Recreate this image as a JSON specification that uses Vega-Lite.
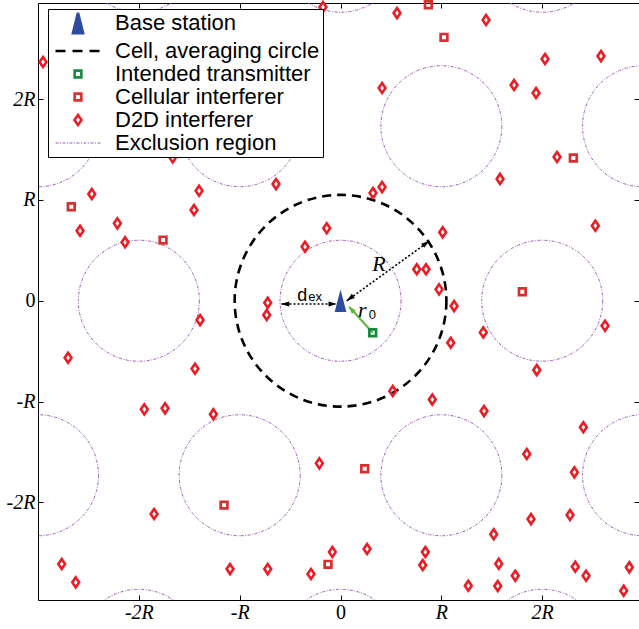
{
  "$schema": "https://vega.github.io/schema/vega-lite/v6.json",
  "width": 601,
  "height": 597,
  "autosize": {"type": "none"},
  "padding": {"left": 38, "top": 3, "right": 0, "bottom": 29},
  "background": "white",
  "config": {"view": {"stroke": null}, "axis": {"grid": false}},
  "datasets": {
    "circles": [
      {"x": 0, "y": 0, "r": 1.05, "series": "Cell, averaging circle"},
      {"x": 0, "y": 0, "r": 0.6, "series": "Exclusion region"},
      {"x": 2, "y": 0, "r": 0.6, "series": "Exclusion region"},
      {"x": -2, "y": 0, "r": 0.6, "series": "Exclusion region"},
      {"x": 1, "y": 1.732, "r": 0.6, "series": "Exclusion region"},
      {"x": -1, "y": 1.732, "r": 0.6, "series": "Exclusion region"},
      {"x": 1, "y": -1.732, "r": 0.6, "series": "Exclusion region"},
      {"x": -1, "y": -1.732, "r": 0.6, "series": "Exclusion region"},
      {"x": 3, "y": 1.732, "r": 0.6, "series": "Exclusion region"},
      {"x": -3, "y": 1.732, "r": 0.6, "series": "Exclusion region"},
      {"x": 3, "y": -1.732, "r": 0.6, "series": "Exclusion region"},
      {"x": -3, "y": -1.732, "r": 0.6, "series": "Exclusion region"},
      {"x": 0, "y": 3.464, "r": 0.6, "series": "Exclusion region"},
      {"x": 2, "y": 3.464, "r": 0.6, "series": "Exclusion region"},
      {"x": -2, "y": 3.464, "r": 0.6, "series": "Exclusion region"},
      {"x": 0, "y": -3.464, "r": 0.6, "series": "Exclusion region"},
      {"x": 2, "y": -3.464, "r": 0.6, "series": "Exclusion region"},
      {"x": -2, "y": -3.464, "r": 0.6, "series": "Exclusion region"}
    ],
    "pts": [
      {"x": 0, "y": 0, "series": "Base station"},
      {"x": 0.319, "y": -0.318, "series": "Intended transmitter"},
      {"x": 0.871, "y": 2.938, "series": "Cellular interferer"},
      {"x": 1.026, "y": 2.614, "series": "Cellular interferer"},
      {"x": 2.309, "y": 1.416, "series": "Cellular interferer"},
      {"x": -1.205, "y": 1.486, "series": "Cellular interferer"},
      {"x": -2.670, "y": 0.933, "series": "Cellular interferer"},
      {"x": -1.760, "y": 0.602, "series": "Cellular interferer"},
      {"x": 1.803, "y": 0.089, "series": "Cellular interferer"},
      {"x": -1.155, "y": -2.028, "series": "Cellular interferer"},
      {"x": -0.124, "y": -2.616, "series": "Cellular interferer"},
      {"x": 0.240, "y": -1.667, "series": "Cellular interferer"},
      {"x": -2.950, "y": 2.369, "series": "D2D interferer"},
      {"x": 0.560, "y": 2.855, "series": "D2D interferer"},
      {"x": 1.443, "y": 2.786, "series": "D2D interferer"},
      {"x": 2.028, "y": 2.399, "series": "D2D interferer"},
      {"x": 2.583, "y": 2.428, "series": "D2D interferer"},
      {"x": 0.412, "y": 2.111, "series": "D2D interferer"},
      {"x": 1.721, "y": 2.141, "series": "D2D interferer"},
      {"x": 1.939, "y": 2.062, "series": "D2D interferer"},
      {"x": 2.147, "y": 1.427, "series": "D2D interferer"},
      {"x": 1.582, "y": 1.209, "series": "D2D interferer"},
      {"x": 0.322, "y": 1.069, "series": "D2D interferer"},
      {"x": 0.412, "y": 1.128, "series": "D2D interferer"},
      {"x": -0.174, "y": 2.915, "series": "D2D interferer"},
      {"x": -1.664, "y": 1.423, "series": "D2D interferer"},
      {"x": -2.467, "y": 1.059, "series": "D2D interferer"},
      {"x": -1.403, "y": 1.092, "series": "D2D interferer"},
      {"x": -1.453, "y": 0.900, "series": "D2D interferer"},
      {"x": -2.583, "y": 0.695, "series": "D2D interferer"},
      {"x": -2.213, "y": 0.768, "series": "D2D interferer"},
      {"x": -2.137, "y": 0.580, "series": "D2D interferer"},
      {"x": -0.640, "y": 1.158, "series": "D2D interferer"},
      {"x": -0.137, "y": 0.719, "series": "D2D interferer"},
      {"x": -0.352, "y": 0.536, "series": "D2D interferer"},
      {"x": 1.013, "y": 0.679, "series": "D2D interferer"},
      {"x": 0.756, "y": 0.312, "series": "D2D interferer"},
      {"x": 0.848, "y": 0.312, "series": "D2D interferer"},
      {"x": 0.977, "y": 0.113, "series": "D2D interferer"},
      {"x": 1.126, "y": -0.053, "series": "D2D interferer"},
      {"x": 1.093, "y": -0.417, "series": "D2D interferer"},
      {"x": -0.722, "y": -0.020, "series": "D2D interferer"},
      {"x": -0.732, "y": -0.142, "series": "D2D interferer"},
      {"x": -1.393, "y": -0.192, "series": "D2D interferer"},
      {"x": -2.702, "y": -0.566, "series": "D2D interferer"},
      {"x": -1.443, "y": -0.675, "series": "D2D interferer"},
      {"x": 0.518, "y": -0.896, "series": "D2D interferer"},
      {"x": 0.910, "y": -0.981, "series": "D2D interferer"},
      {"x": -1.261, "y": -1.127, "series": "D2D interferer"},
      {"x": 1.416, "y": -0.314, "series": "D2D interferer"},
      {"x": 2.527, "y": 0.744, "series": "D2D interferer"},
      {"x": 2.623, "y": -0.248, "series": "D2D interferer"},
      {"x": 1.946, "y": -0.688, "series": "D2D interferer"},
      {"x": -1.946, "y": -1.078, "series": "D2D interferer"},
      {"x": -1.740, "y": -1.068, "series": "D2D interferer"},
      {"x": -0.210, "y": -1.614, "series": "D2D interferer"},
      {"x": -1.849, "y": -2.117, "series": "D2D interferer"},
      {"x": -2.765, "y": -2.613, "series": "D2D interferer"},
      {"x": -2.626, "y": -2.795, "series": "D2D interferer"},
      {"x": -1.096, "y": -2.663, "series": "D2D interferer"},
      {"x": -0.722, "y": -2.663, "series": "D2D interferer"},
      {"x": -0.293, "y": -2.712, "series": "D2D interferer"},
      {"x": -0.081, "y": -2.494, "series": "D2D interferer"},
      {"x": 1.423, "y": -1.095, "series": "D2D interferer"},
      {"x": 2.408, "y": -1.256, "series": "D2D interferer"},
      {"x": 1.847, "y": -1.521, "series": "D2D interferer"},
      {"x": 2.319, "y": -1.703, "series": "D2D interferer"},
      {"x": 1.889, "y": -2.167, "series": "D2D interferer"},
      {"x": 2.276, "y": -2.127, "series": "D2D interferer"},
      {"x": 1.519, "y": -2.318, "series": "D2D interferer"},
      {"x": 0.263, "y": -2.464, "series": "D2D interferer"},
      {"x": 0.841, "y": -2.494, "series": "D2D interferer"},
      {"x": 0.815, "y": -2.623, "series": "D2D interferer"},
      {"x": 1.569, "y": -2.610, "series": "D2D interferer"},
      {"x": 1.733, "y": -2.729, "series": "D2D interferer"},
      {"x": 1.267, "y": -2.829, "series": "D2D interferer"},
      {"x": 1.559, "y": -2.831, "series": "D2D interferer"},
      {"x": 2.328, "y": -2.640, "series": "D2D interferer"},
      {"x": 2.435, "y": -2.729, "series": "D2D interferer"},
      {"x": 2.864, "y": -2.646, "series": "D2D interferer"},
      {"x": 2.808, "y": -2.878, "series": "D2D interferer"}
    ],
    "arrows": [
      {"x": -0.585, "y": -0.033, "x2": -0.06, "y2": -0.033, "arrow": "dex"},
      {"x": 0.062, "y": 0.0, "x2": 0.881, "y2": 0.592, "arrow": "R"},
      {"x": 0.319, "y": -0.318, "x2": 0.09, "y2": -0.065, "arrow": "r0"}
    ],
    "heads": [
      {"x": -0.550, "y": -0.033, "head": "dex-left"},
      {"x": -0.077, "y": -0.033, "head": "dex-right"},
      {"x": 0.849, "y": 0.570, "head": "R-out"},
      {"x": 0.093, "y": 0.023, "head": "R-in"},
      {"x": 0.104, "y": -0.082, "head": "r0"}
    ],
    "labels": [
      {"x": 0.382, "y": 0.298, "text": "R"},
      {"x": 0.216, "y": -0.159, "text": "r"},
      {"x": 0.316, "y": -0.185, "text": "0"},
      {"x": -0.379, "y": 0.0, "text": "d"},
      {"x": -0.253, "y": 0.0, "text": "ex"}
    ]
  },
  "encoding": {
    "x": {"field": "x", "type": "quantitative", "scale": {"domain": [-3.0, 2.96], "nice": false, "zero": false}, "axis": null},
    "y": {"field": "y", "type": "quantitative", "scale": {"domain": [-2.97, 2.955], "nice": false, "zero": false}, "axis": null}
  },
  "layer": [
    {
      "data": {"name": "circles"},
      "transform": [{"filter": "datum.series === 'Exclusion region'"}],
      "mark": {"type": "point", "shape": "circle", "filled": false, "strokeWidth": 1, "strokeDash": [3, 1.5, 1, 1.5], "opacity": 1, "clip": true},
      "encoding": {
        "x": {"field": "x", "type": "quantitative", "scale": {"domain": [-3.0, 2.96], "nice": false, "zero": false},
          "axis": {"orient": "bottom", "values": [-2, -1, 0, 1, 2], "title": null, "grid": false, "tickSize": -5, "labelPadding": 7,
            "labelExpr": "datum.value === 0 ? '0' : datum.value === 1 ? 'R' : datum.value === -1 ? '-R' : datum.value + 'R'",
            "labelFont": "Liberation Serif", "labelFontSize": 20, "labelFontStyle": {"condition": {"test": "datum.value === 0", "value": "normal"}, "value": "italic"},
            "labelColor": "black", "domainColor": "black", "tickColor": "black", "labelFlush": false, "labelOverlap": false}},
        "y": {"field": "y", "type": "quantitative", "scale": {"domain": [-2.97, 2.955], "nice": false, "zero": false},
          "axis": {"orient": "left", "values": [-2, -1, 0, 1, 2], "title": null, "grid": false, "tickSize": -5, "labelPadding": 8,
            "labelExpr": "datum.value === 0 ? '0' : datum.value === 1 ? 'R' : datum.value === -1 ? '-R' : datum.value + 'R'",
            "labelFont": "Liberation Serif", "labelFontSize": 20, "labelFontStyle": {"condition": {"test": "datum.value === 0", "value": "normal"}, "value": "italic"},
            "labelColor": "black", "domainColor": "black", "tickColor": "black", "labelFlush": false, "labelOverlap": false}},
        "size": {"field": "r", "type": "quantitative", "scale": {"type": "pow", "exponent": 2, "domain": [0, 1], "range": [0, 40672]}, "legend": null},
        "color": {"field": "series", "type": "nominal",
          "scale": {"domain": ["Base station", "Cell, averaging circle", "Intended transmitter", "Cellular interferer", "D2D interferer", "Exclusion region"],
                    "range": ["#2e4c9f", "#000000", "#178a3e", "#d8302e", "#ec1c24", "#9d5cb8"]},
          "legend": {"title": null, "orient": "none", "legendX": 10, "legendY": 6, "padding": 3, "fillColor": "white", "strokeColor": "black", "cornerRadius": 0,
            "labelFont": "Liberation Sans", "labelFontSize": 22, "labelColor": "black", "symbolSize": 200, "rowPadding": 1, "labelLimit": 400,
            "encoding": {
              "symbols": {
                "shape": {"value": {"expr": "datum.value === 'Base station' ? 'M0,-1L0.5,1L-0.5,1Z' : datum.value === 'D2D interferer' ? 'M0,-1L0.7,0L0,1L-0.7,0Z' : (datum.value === 'Cell, averaging circle' || datum.value === 'Exclusion region') ? 'stroke' : 'square'"}},
                "size": {"value": {"expr": "datum.value === 'Base station' ? 420 : datum.value === 'D2D interferer' ? 100 : (datum.value === 'Cell, averaging circle' || datum.value === 'Exclusion region') ? 2025 : 45"}},
                "fill": {"value": {"expr": "datum.value === 'Base station' ? '#2e4c9f' : 'white'"}},
                "fillOpacity": {"value": {"expr": "datum.value === 'Base station' ? 1 : 0"}},
                "stroke": {"value": {"expr": "datum.value === 'Base station' ? 'transparent' : datum.value === 'Cell, averaging circle' ? 'black' : datum.value === 'Intended transmitter' ? '#178a3e' : datum.value === 'Cellular interferer' ? '#d8302e' : datum.value === 'D2D interferer' ? '#ec1c24' : '#9d5cb8'"}},
                "strokeWidth": {"value": {"expr": "datum.value === 'Exclusion region' ? 1 : 2.6"}},
                "strokeDash": {"value": {"expr": "datum.value === 'Cell, averaging circle' ? [10, 7] : datum.value === 'Exclusion region' ? [3, 1.5, 1, 1.5] : [1, 0]"}},
                "opacity": {"value": 1},
                "x": {"value": 27}
              },
              "labels": {"x": {"value": 64}}
            }}}
      }
    },
    {
      "data": {"name": "circles"},
      "transform": [{"filter": "datum.series === 'Cell, averaging circle'"}],
      "mark": {"type": "point", "shape": "circle", "filled": false, "strokeWidth": 2.6, "strokeDash": [9, 6], "opacity": 1, "clip": true},
      "encoding": {
        "x": {"field": "x", "type": "quantitative", "scale": {"domain": [-3.0, 2.96], "nice": false, "zero": false},
          "axis": {"orient": "top", "values": [-2, -1, 0, 1, 2], "title": null, "grid": false, "labels": false, "tickSize": -5, "domainColor": "black", "tickColor": "black"}},
        "y": {"field": "y", "type": "quantitative", "scale": {"domain": [-2.97, 2.955], "nice": false, "zero": false},
          "axis": {"orient": "right", "values": [-2, -1, 0, 1, 2], "title": null, "grid": false, "labels": false, "tickSize": -5, "domainColor": "black", "tickColor": "black"}},
        "size": {"field": "r", "type": "quantitative", "scale": {"type": "pow", "exponent": 2, "domain": [0, 1], "range": [0, 40672]}, "legend": null},
        "color": {"field": "series", "type": "nominal",
          "scale": {"domain": ["Base station", "Cell, averaging circle", "Intended transmitter", "Cellular interferer", "D2D interferer", "Exclusion region"],
                    "range": ["#2e4c9f", "#000000", "#178a3e", "#d8302e", "#ec1c24", "#9d5cb8"]}}
      }
    },
    {
      "data": {"name": "arrows"},
      "transform": [{"filter": "datum.arrow !== 'r0'"}],
      "mark": {"type": "rule", "color": "black", "strokeWidth": 1.6, "strokeDash": [2, 2]},
      "encoding": {"x2": {"field": "x2"}, "y2": {"field": "y2"}}
    },
    {
      "data": {"name": "arrows"},
      "transform": [{"filter": "datum.arrow === 'r0'"}],
      "mark": {"type": "rule", "color": "#5cb83a", "strokeWidth": 2},
      "encoding": {"x2": {"field": "x2"}, "y2": {"field": "y2"}}
    },
    {
      "data": {"name": "heads"},
      "transform": [{"filter": "datum.head === 'dex-left'"}],
      "mark": {"type": "point", "shape": "M0,-1L0.6,1L-0.6,1Z", "filled": true, "color": "black", "opacity": 1, "size": 72, "angle": 270},
      "encoding": {}
    },
    {
      "data": {"name": "heads"},
      "transform": [{"filter": "datum.head === 'dex-right'"}],
      "mark": {"type": "point", "shape": "M0,-1L0.6,1L-0.6,1Z", "filled": true, "color": "black", "opacity": 1, "size": 72, "angle": 90},
      "encoding": {}
    },
    {
      "data": {"name": "heads"},
      "transform": [{"filter": "datum.head === 'R-out'"}],
      "mark": {"type": "point", "shape": "M0,-1L0.6,1L-0.6,1Z", "filled": true, "color": "black", "opacity": 1, "size": 72, "angle": 54},
      "encoding": {}
    },
    {
      "data": {"name": "heads"},
      "transform": [{"filter": "datum.head === 'R-in'"}],
      "mark": {"type": "point", "shape": "M0,-1L0.6,1L-0.6,1Z", "filled": true, "color": "black", "opacity": 1, "size": 72, "angle": 234},
      "encoding": {}
    },
    {
      "data": {"name": "heads"},
      "transform": [{"filter": "datum.head === 'r0'"}],
      "mark": {"type": "point", "shape": "M0,-1L0.6,1L-0.6,1Z", "filled": true, "color": "#5cb83a", "opacity": 1, "size": 72, "angle": 318},
      "encoding": {}
    },
    {
      "data": {"name": "pts"},
      "transform": [{"filter": "datum.series === 'D2D interferer'"}],
      "mark": {"type": "point", "shape": "M0,-1L0.68,0L0,1L-0.68,0Z", "filled": false, "strokeWidth": 2.6, "size": 100, "opacity": 1},
      "encoding": {"color": {"field": "series", "type": "nominal",
          "scale": {"domain": ["Base station", "Cell, averaging circle", "Intended transmitter", "Cellular interferer", "D2D interferer", "Exclusion region"],
                    "range": ["#2e4c9f", "#000000", "#178a3e", "#d8302e", "#ec1c24", "#9d5cb8"]}}}
    },
    {
      "data": {"name": "pts"},
      "transform": [{"filter": "datum.series === 'Cellular interferer' || datum.series === 'Intended transmitter'"}],
      "mark": {"type": "point", "shape": "square", "filled": false, "strokeWidth": 2.7, "size": 45, "opacity": 1},
      "encoding": {"color": {"field": "series", "type": "nominal",
          "scale": {"domain": ["Base station", "Cell, averaging circle", "Intended transmitter", "Cellular interferer", "D2D interferer", "Exclusion region"],
                    "range": ["#2e4c9f", "#000000", "#178a3e", "#d8302e", "#ec1c24", "#9d5cb8"]}}}
    },
    {
      "data": {"name": "pts"},
      "transform": [{"filter": "datum.series === 'Base station'"}],
      "mark": {"type": "point", "shape": "M0,-1L0.52,1L-0.52,1Z", "filled": true, "size": 500, "opacity": 1},
      "encoding": {"color": {"field": "series", "type": "nominal",
          "scale": {"domain": ["Base station", "Cell, averaging circle", "Intended transmitter", "Cellular interferer", "D2D interferer", "Exclusion region"],
                    "range": ["#2e4c9f", "#000000", "#178a3e", "#d8302e", "#ec1c24", "#9d5cb8"]}}}
    },
    {
      "data": {"name": "labels"},
      "transform": [{"filter": "datum.text === 'R' || datum.text === 'r'"}],
      "mark": {"type": "text", "font": "Liberation Serif", "fontStyle": "italic", "fontSize": 22, "align": "center", "baseline": "alphabetic", "color": "black"},
      "encoding": {"text": {"field": "text"}}
    },
    {
      "data": {"name": "labels"},
      "transform": [{"filter": "datum.text === '0' || datum.text === 'ex'"}],
      "mark": {"type": "text", "font": "Liberation Sans", "fontSize": 13, "align": "center", "baseline": "alphabetic", "color": "black"},
      "encoding": {"text": {"field": "text"}}
    },
    {
      "data": {"name": "labels"},
      "transform": [{"filter": "datum.text === 'd'"}],
      "mark": {"type": "text", "font": "Liberation Sans", "fontSize": 18, "align": "center", "baseline": "alphabetic", "color": "black"},
      "encoding": {"text": {"field": "text"}}
    }
  ],
  "resolve": {"axis": {"x": "independent", "y": "independent"}}
}
